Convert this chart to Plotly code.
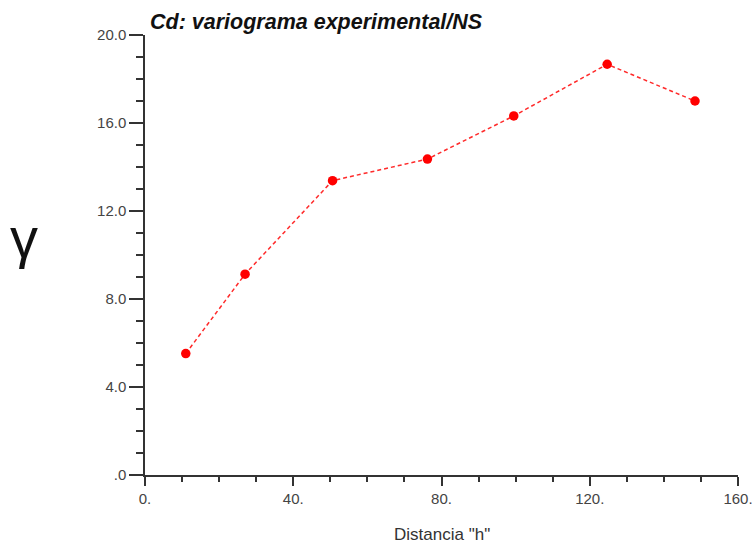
import plotly.graph_objects as go

# Data
lag_h = [11, 27, 50.6, 76.2, 99.5, 124.7, 148.4]
gamma_vals = [5.52, 9.13, 13.38, 14.36, 16.32, 18.67, 17.0]

x_tickvals = [0, 40, 80, 120, 160]
x_ticktext = ["0.", "40.", "80.", "120.", "160."]
y_tickvals = [0, 4, 8, 12, 16, 20]
y_ticktext = [".0", "4.0", "8.0", "12.0", "16.0", "20.0"]

title_text = "Cd: variograma experimental/NS"
x_title = 'Distancia "h"'
y_title = "γ"

FONT = "Arial, Liberation Sans, Helvetica, sans-serif"
AXIS_COLOR = "#333333"
LABEL_COLOR = "#444444"

fig = go.Figure()
fig.add_trace(go.Scatter(
    x=lag_h, y=gamma_vals,
    mode="lines+markers",
    line=dict(color="#ff2a2a", width=1.5, dash="4px,3px"),
    marker=dict(color="#ff0000", size=9.5, line=dict(width=0)),
    showlegend=False,
    cliponaxis=False,
))

fig.update_layout(
    width=755, height=544,
    margin=dict(l=145, r=17, t=35, b=68.5, pad=0, autoexpand=False),
    paper_bgcolor="white", plot_bgcolor="white",
    font=dict(family=FONT, size=15, color=LABEL_COLOR),
    xaxis=dict(
        range=[0, 160], tickvals=x_tickvals, ticktext=x_ticktext,
        showgrid=False, zeroline=False, automargin=False,
        showline=True, linecolor=AXIS_COLOR, linewidth=1.5,
        ticks="outside", ticklen=9, tickwidth=1.5, tickcolor=AXIS_COLOR,
        minor=dict(dtick=10, ticks="outside", ticklen=5, tickwidth=1.5, tickcolor=AXIS_COLOR),
        tickfont=dict(size=15, color=LABEL_COLOR),
        fixedrange=True,
    ),
    yaxis=dict(
        range=[0, 20], tickvals=y_tickvals, ticktext=y_ticktext,
        showgrid=False, zeroline=False, automargin=False,
        showline=True, linecolor=AXIS_COLOR, linewidth=1.5,
        ticks="outside", ticklen=14, tickwidth=1.5, tickcolor=AXIS_COLOR,
        minor=dict(dtick=1, ticks="outside", ticklen=7, tickwidth=1.5, tickcolor=AXIS_COLOR),
        tickfont=dict(size=15, color=LABEL_COLOR),
        fixedrange=True,
    ),
    annotations=[
        dict(text=title_text, xref="paper", yref="paper", x=0.005, y=1.03,
             xanchor="left", yanchor="middle", showarrow=False,
             font=dict(family=FONT, size=21.5, color="#111111", style="italic", weight="bold")),
        dict(text=x_title, xref="paper", yref="paper", x=0.5, y=-0.135,
             xanchor="center", yanchor="middle", showarrow=False,
             font=dict(family=FONT, size=17, color="#333333")),
        dict(text=y_title, xref="paper", yref="paper", x=-0.204, y=0.539,
             xanchor="center", yanchor="middle", showarrow=False,
             font=dict(family=FONT, size=56, color="#111111")),
    ],
)

fig.write_html("out.html")
